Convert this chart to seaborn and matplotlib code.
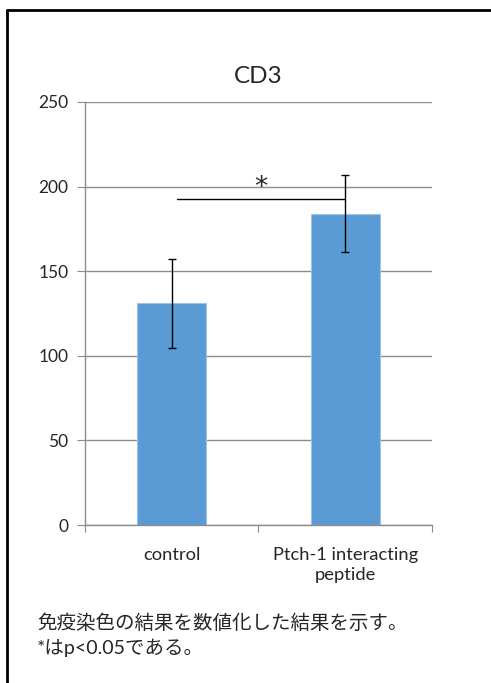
import matplotlib
matplotlib.use("Agg")
import matplotlib.pyplot as plt
from matplotlib.lines import Line2D
import seaborn as sns

# data
categories = ["control", "Ptch-1 interacting\npeptide"]
means = [131, 184]
errors = [26.5, 22.6]
y_ticks = [0, 50, 100, 150, 200, 250]
title = "CD3"
sig_x = [0.03, 1.0]
sig_y = 192.5
sig_label = "*"
note_lines = ["免疫染色の結果を数値化した結果を示す。", "*はp<0.05である。"]

sns.set_style("white")
plt.rcParams['font.family'] = ['Lato', 'Noto Sans CJK JP', 'DejaVu Sans']

fig = plt.figure(figsize=(4.91, 6.83), dpi=100)
ax = fig.add_axes([0.1731, 0.2313, 0.7067, 0.6194])

sns.barplot(x=categories, y=means, color="#5B9BD5", saturation=1, width=0.4,
            edgecolor="#9DC3E6", linewidth=0.8, ax=ax, zorder=2)
ax.errorbar(range(len(means)), means, yerr=errors, fmt="none",
            ecolor="black", elinewidth=1, capsize=3, capthick=1, zorder=3)

# significance bar
ax.plot(sig_x, [sig_y, sig_y], color="black", lw=1, zorder=4)
ax.text(sum(sig_x) / 2, sig_y - 1, sig_label, ha="center", va="bottom",
        fontsize=19, family="DejaVu Sans")

ax.set_ylim(0, 250)
ax.set_xlim(-0.5, 1.5)
ax.set_yticks(y_ticks)
ax.yaxis.grid(True, color="#8C8C8C", lw=1)
ax.set_axisbelow(True)
ax.tick_params(axis="y", length=6, color="#8C8C8C", labelsize=12.5, pad=6, left=True)

# category boundaries get the tick marks, labels sit between them
ax.set_xticks([-0.5, 0.5, 1.5])
ax.set_xticklabels([])
ax.set_xticks([0, 1], minor=True)
ax.set_xticklabels(categories, minor=True, fontsize=13.2, linespacing=1.3)
ax.tick_params(axis="x", which="major", length=5, color="#8C8C8C", bottom=True)
ax.tick_params(axis="x", which="minor", length=0, pad=16)

for s in ["top", "right"]:
    ax.spines[s].set_visible(False)
for s in ["left", "bottom"]:
    ax.spines[s].set_color("#8C8C8C")
    ax.spines[s].set_linewidth(1)

ax.set_title(title, fontsize=17.5, pad=14)

fig.text(37 / 491, 1 - 623 / 683, note_lines[0], fontsize=14, va="center")
fig.text(37 / 491, 1 - 648 / 683, note_lines[1], fontsize=14, va="center")

# frame around the chart (left and top edges visible)
fig.add_artist(Line2D([7 / 491, 7 / 491], [0, 1 - 10 / 683], color="black", lw=2))
fig.add_artist(Line2D([7 / 491, 1], [1 - 10 / 683, 1 - 10 / 683], color="black", lw=2))

fig.savefig("out.png", dpi=100)
